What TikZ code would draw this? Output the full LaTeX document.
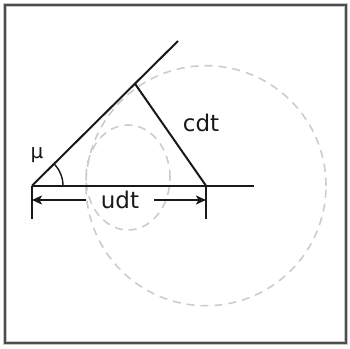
\documentclass[tikz,border=0pt]{standalone}
\usepackage{fontspec}
\setmainfont{DejaVu Sans}
\usetikzlibrary{positioning,arrows.meta,calc}

\begin{document}
\begin{tikzpicture}[x=1pt, y=1pt,
    lbl/.style={font=\fontsize{23}{27}\selectfont, text=black!90, inner sep=0pt},
    ray/.style={line width=2pt, black!90},
    front/.style={dash pattern=on 8pt off 6pt, line width=1.6pt, gray!40},
    dim/.style={{Stealth[length=10pt, width=9pt, inset=2.5pt]}-, line width=1.6pt, black!90},
    tick/.style={line width=1.6pt, black!90},
]
\useasboundingbox (0,0) rectangle (350,348);
\draw[gray!45, line width=3.5pt] (5,5) rectangle (346,343);
\draw[black!70, line width=1.5pt] (5,5) rectangle (346,343);

\coordinate (a) at (32,162.3);
\coordinate (b) at (206,162.3);
\coordinate (e) at (254,162.3);
\coordinate (t) at (178,307);
\coordinate (f) at ($(a)!0.705!(t)$);
\coordinate (o) at (128,170.5);

\draw[front] (b) circle (120);
\draw[front] (o) ellipse (42 and 52.5);

\draw[ray] (a) -- (e);
\draw[ray] (a) -- (t);
\draw[ray] (f) -- (b);
\draw[line width=1.4pt, black!90] ($(a)+(31,0)$) arc[start angle=0, end angle=45, radius=31];

\coordinate (a1) at ($(a)+(0,-33)$);
\coordinate (b1) at ($(b)+(0,-33)$);
\draw[tick] (a) -- (a1);
\draw[tick] (b) -- (b1);

\node[lbl, inner xsep=15pt] (udt) at (120,148) {udt};
\draw[dim] (a |- udt) -- (udt);
\draw[dim] (b |- udt) -- (udt);

\node[lbl] (cdt) at (201,225) {cdt};
\node[lbl, font=\fontsize{20}{24}\selectfont] (mu) at (37,193) {μ};
\end{tikzpicture}
\end{document}
